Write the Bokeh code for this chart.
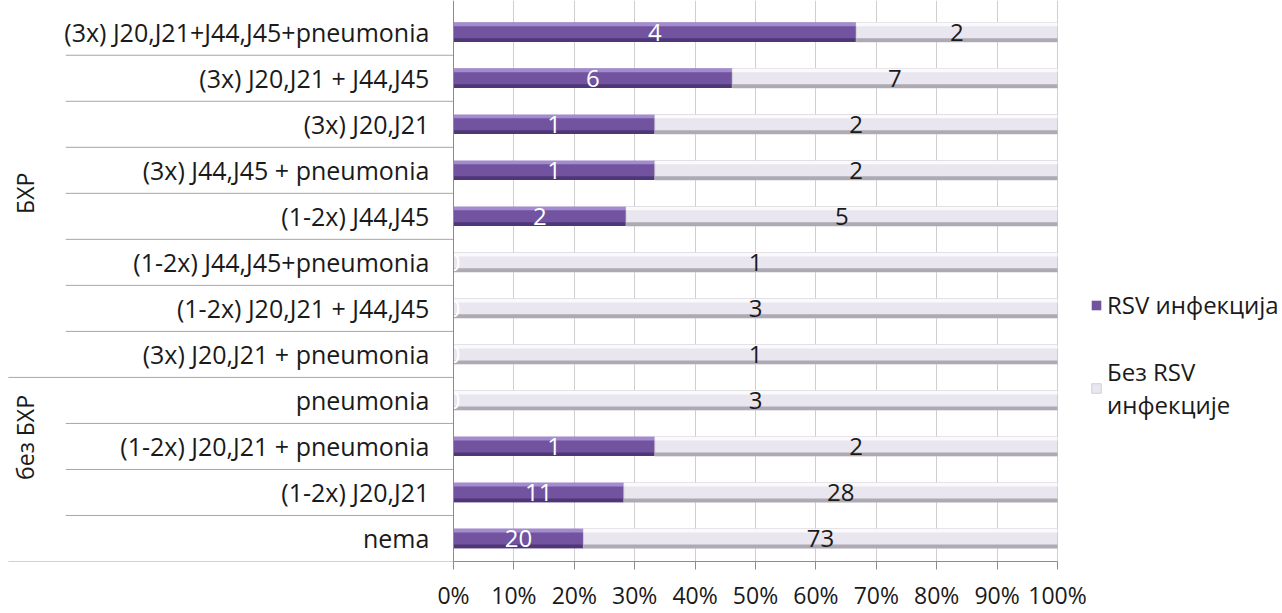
import numpy as np
from bokeh.plotting import figure
from bokeh.models import (ColumnDataSource, FixedTicker, NumeralTickFormatter,
                          Legend, LegendItem, Span, Range1d)
from bokeh.transform import dodge
from bokeh.core.properties import value
from bokeh.embed import file_html
from bokeh.resources import INLINE

# ---------------- data ----------------
categories = [
    "(3x) J20,J21+J44,J45+pneumonia",
    "(3x) J20,J21 + J44,J45",
    "(3x) J20,J21",
    "(3x) J44,J45 + pneumonia",
    "(1-2x) J44,J45",
    "(1-2x) J44,J45+pneumonia",
    "(1-2x) J20,J21 + J44,J45",
    "(3x) J20,J21 + pneumonia",
    "pneumonia",
    "(1-2x) J20,J21 + pneumonia",
    "(1-2x) J20,J21",
    "nema",
]
groups = ["БХР"] * 8 + ["без БХР"] * 4
group_names = ["БХР", "без БХР"]
rsv_counts = [4, 6, 1, 1, 2, 0, 0, 0, 0, 1, 11, 20]
no_rsv_counts = [2, 7, 2, 2, 5, 1, 3, 1, 3, 2, 28, 73]
series_labels = ["RSV инфекција", "Без RSV\nинфекције"]
x_ticks = [0.0, 0.1, 0.2, 0.3, 0.4, 0.5, 0.6, 0.7, 0.8, 0.9, 1.0]

# ---------------- derived ----------------
FONT = "Open Sans"
n = len(categories)
ypos = [n - 1 - i for i in range(n)]
totals = [a + b for a, b in zip(rsv_counts, no_rsv_counts)]
frac = [a / t for a, t in zip(rsv_counts, totals)]

src = ColumnDataSource(dict(
    cat=categories, y=ypos,
    zero=[0.0] * n, one=[1.0] * n, frac=frac,
    mid_rsv=[f / 2 for f in frac],
    mid_no=[f + (1 - f) / 2 for f in frac],
    t_rsv=[str(v) for v in rsv_counts],
    t_no=[str(v) for v in no_rsv_counts],
))

X0, X1 = -0.75, 1.3725
p = figure(width=1282, height=613,
           x_range=Range1d(X0, X1), y_range=Range1d(-0.5, 11.69),
           output_backend="svg", toolbar_location=None,
           y_axis_location=None, min_border=0,
           outline_line_color=None)

ax = p.xaxis[0]
ax.ticker = FixedTicker(ticks=x_ticks)
ax.formatter = NumeralTickFormatter(format="0%")
ax.bounds = (0, 1)
ax.axis_line_color = "#8c8c8c"
ax.major_tick_line_color = "#8c8c8c"
ax.major_tick_out = 8
ax.major_tick_in = 0
ax.minor_tick_line_color = None
ax.major_label_text_font = FONT
ax.major_label_text_font_size = "23px"
ax.major_label_text_color = "#1a1a1a"
ax.major_label_standoff = 9

p.xgrid.grid_line_color = "#cfcfcf"
p.ygrid.visible = False

# separators in the category-label area
CAT_X0 = -0.642
GRP_X0 = -0.737
sep_y, sep_x0 = [], []
for i in range(1, n):
    sep_y.append(ypos[i] + 0.5)
    sep_x0.append(GRP_X0 if groups[i] != groups[i - 1] else CAT_X0)
sep_y.append(ypos[-1] - 0.5)
sep_x0.append(GRP_X0)
p.segment(x0=sep_x0, y0=sep_y, x1=[0] * len(sep_y), y1=sep_y,
          line_color="#a6a6a6", line_width=1)

# bars
H = 0.42
S = 0.08


def bar(left, right, base, hi, lo, edge=None):
    r = p.hbar(y="y", left=left, right=right, height=H, source=src,
               fill_color=base, line_color=edge, line_width=0.8)
    p.hbar(y=dodge("y", H / 2 - S / 2), left=left, right=right, height=S,
           source=src, fill_color=hi, line_color=None)
    p.hbar(y=dodge("y", -H / 2 + S / 2), left=left, right=right, height=S,
           source=src, fill_color=lo, line_color=None)
    return r


r_rsv = bar("zero", "frac", "#71539F", "#A48BD0", "#4F3677")
r_no = bar("frac", "one", "#E9E6EF", "#FAF9FC", "#ADAAB3", edge="#C9C6CF")

p.add_layout(Span(location=0, dimension="height", line_color="#8c8c8c", line_width=1))

# value labels
p.text(x="mid_rsv", y="y", text="t_rsv", source=src, text_align="center",
       text_baseline="middle", text_color="white", text_font=value(FONT),
       text_font_size="24px")
p.text(x="mid_no", y="y", text="t_no", source=src, text_align="center",
       text_baseline="middle", text_color="#1a1a1a", text_font=value(FONT),
       text_font_size="24px")

# category labels
p.text(x=-0.04, y="y", text="cat", source=src, text_align="right",
       text_baseline="middle", text_color="#1a1a1a", text_font=value(FONT),
       text_font_size="25px")

# group labels
g_y = []
for g in group_names:
    ys = [ypos[i] for i in range(n) if groups[i] == g]
    g_y.append((max(ys) + min(ys)) / 2)
gsrc = ColumnDataSource(dict(g=group_names, y=g_y, x=[-0.71] * len(group_names),
                             yoff=[0, -32]))
p.text(x="x", y="y", text="g", y_offset="yoff", source=gsrc, angle=np.pi / 2,
       text_align="center", text_baseline="middle", text_color="#1a1a1a",
       text_font=value(FONT), text_font_size="23px")

legend = Legend(items=[LegendItem(label=series_labels[0], renderers=[r_rsv]),
                       LegendItem(label=series_labels[1], renderers=[r_no])],
                location=(1090, 140), orientation="vertical",
                border_line_color=None, background_fill_alpha=0,
                padding=0, margin=0, spacing=34,
                glyph_width=12, glyph_height=12, label_standoff=5,
                label_text_font=FONT, label_text_font_size="24px",
                label_text_line_height=1.8, label_text_color="#1a1a1a")
p.add_layout(legend)

open("out.html", "w").write(file_html(p, INLINE))
